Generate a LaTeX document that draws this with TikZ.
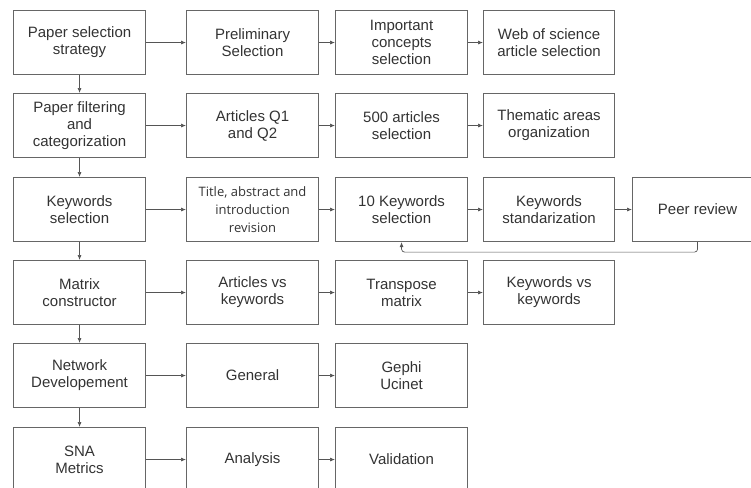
\documentclass[tikz,border=0pt]{standalone}
\usepackage{fontspec}
\setmainfont{Liberation Sans}
\newfontfamily\altfont{Open Sans}
\usetikzlibrary{arrows.meta}
\definecolor{boxgray}{HTML}{666666}
\definecolor{textgray}{HTML}{333333}
\definecolor{linegray}{HTML}{555555}
\begin{document}
\begin{tikzpicture}[x=1pt,y=-1pt,
  box/.style={draw=boxgray, line width=1.1pt, minimum width=132pt, minimum height=64pt,
    inner sep=0pt, align=center, text=textgray, font=\fontsize{15}{17}\selectfont, anchor=north west},
  arr/.style={draw=linegray, line width=0.7pt, -{Latex[length=5pt,width=4pt]}}]
\useasboundingbox (0,0) rectangle (751,487);
% row 1
\node[box] (a1) at (13,10) {Paper selection\\strategy};
\node[box] (b1) at (186,10) {Preliminary\\Selection};
\node[box] (c1) at (335,10) {Important\\concepts\\selection};
\node[box, minimum width=131pt] (d1) at (483,10) {Web of science\\article selection};
% row 2
\node[box] (a2) at (13,93) {Paper filtering\\and\\categorization};
\node[box] (b2) at (186,93) {Articles Q1\\and Q2};
\node[box] (c2) at (335,93) {500 articles\\selection};
\node[box, minimum width=131pt] (d2) at (483,93) {Thematic areas\\organization};
% row 3
\node[box] (a3) at (13,177) {Keywords\\selection};
\node[box, font=\altfont\fontsize{13}{18}\selectfont] (b3) at (186,177) {Title, abstract and\\introduction\\revision};
\node[box] (c3) at (335,177) {10 Keywords\\selection};
\node[box, minimum width=131pt] (d3) at (483,177) {Keywords\\standarization};
\node[box, minimum width=130pt] (e3) at (632,177) {Peer review};
% row 4
\node[box] (a4) at (13,260) {Matrix\\constructor};
\node[box] (b4) at (186,260) {Articles vs\\keywords};
\node[box] (c4) at (335,260) {Transpose\\matrix};
\node[box, minimum width=131pt] (d4) at (483,260) {Keywords vs\\keywords};
% row 5
\node[box] (a5) at (13,343) {Network\\Developement};
\node[box] (b5) at (186,343) {General};
\node[box] (c5) at (335,343) {Gephi\\Ucinet};
% row 6
\node[box] (a6) at (13,427) {SNA\\Metrics};
\node[box] (b6) at (186,427) {Analysis};
\node[box] (c6) at (335,427) {Validation};
% vertical arrows
\draw[arr] (a1) -- (a2);
\draw[arr] (a2) -- (a3);
\draw[arr] (a3) -- (a4);
\draw[arr] (a4) -- (a5);
\draw[arr] (a5) -- (a6);
% horizontal arrows
\foreach \r in {1,2,3,4}{
  \draw[arr] (a\r) -- (b\r);
  \draw[arr] (b\r) -- (c\r);
  \draw[arr] (c\r) -- (d\r);
}
\draw[arr] (d3) -- (e3);
\draw[arr] (a5) -- (b5);
\draw[arr] (b5) -- (c5);
\draw[arr] (a6) -- (b6);
\draw[arr] (b6) -- (c6);
% feedback
\draw[arr, rounded corners=3pt] (e3.south) -- ++(0,10) -| (c3.south);
\end{tikzpicture}
\end{document}
